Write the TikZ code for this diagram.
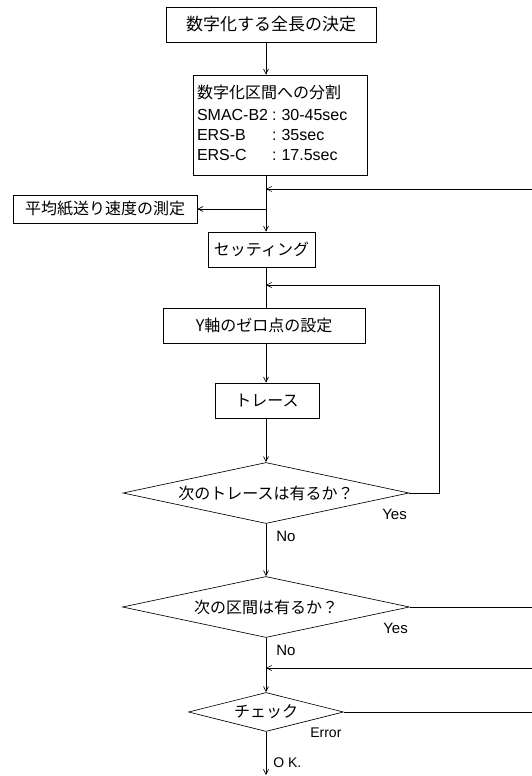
\documentclass[tikz,border=0pt]{standalone}
\usepackage{fontspec}
\setmainfont{Liberation Sans}
\newfontfamily\jp{Noto Sans CJK JP}
\usetikzlibrary{arrows.meta,shapes.geometric}
\begin{document}
\begin{tikzpicture}[x=1pt,y=-1pt,
  line width=0.65pt,
  rbox/.style={draw,rectangle,inner sep=0pt,font=\jp\fontsize{16}{18}\selectfont},
  dia/.style={draw,diamond,inner sep=0pt,aspect=4.7,font=\jp\fontsize{16}{18}\selectfont},
  arr/.style={-{Straight Barb[length=5pt,width=5pt]}},
  lbl/.style={inner sep=0pt,font=\fontsize{15}{17}\selectfont},
  slbl/.style={inner sep=0pt,font=\fontsize{14}{16}\selectfont}]
\useasboundingbox (0,0) rectangle (532,776);
\fill[white] (0,0) rectangle (532,776);
\coordinate (m) at (266,0);

\node[rbox,minimum width=210pt,minimum height=35pt,font=\jp\fontsize{17}{19}\selectfont] (b1) at (271,24.5) {数字化する全長の決定};
\node[draw,rectangle,inner sep=4pt,text width=166pt,minimum height=100pt] (b2) at (280,125)
  {\fontsize{16}{20}\selectfont\begin{tabular}{@{}l@{}l@{}}
   \multicolumn{2}{@{}l@{}}{\jp 数字化区間への分割}\\[2pt]
   SMAC-B2\hspace{4pt} & : 30-45sec\\
   ERS-B & : 35sec\\
   ERS-C & : 17.5sec
   \end{tabular}};
\node[rbox,minimum width=184pt,minimum height=28pt] (lb) at (105,209) {平均紙送り速度の測定};
\node[rbox,minimum width=107pt,minimum height=35pt] (set) at (261.5,249.5) {セッティング};
\node[rbox,minimum width=202pt,minimum height=35pt] (yb) at (264,325.5) {Y軸のゼロ点の設定};
\node[rbox,minimum width=104pt,minimum height=35pt] (tr) at (267,400.5) {トレース};
\node[dia,minimum width=286pt,minimum height=61pt] (d1) at (266,493) {次のトレースは有るか？};
\node[dia,minimum width=287pt,minimum height=61pt] (d2) at (266,607) {次の区間は有るか？};
\node[dia,minimum width=155pt,minimum height=39pt] (d3) at (266,712) {チェック};

\coordinate (e1) at (532,189);
\coordinate (e2) at (532,607);
\coordinate (e3) at (532,668);
\coordinate (e4) at (532,712);
\coordinate (r1) at (439,493);
\coordinate (r2) at (439,285);
\coordinate (j1) at (266,189);
\coordinate (j2) at (266,209);
\coordinate (j3) at (266,285);
\coordinate (j4) at (266,668);
\coordinate (end) at (266,775);

\draw[arr] (b1.south -| m) -- (b2.north -| m);
\draw[arr] (b2.south -| m) -- (set.north -| m);
\draw[arr] (e1) -- (j1);
\draw[arr] (j2) -- (lb.east);
\draw (set.south -| m) -- (yb.north -| m);
\draw[arr] (yb.south -| m) -- (tr.north -| m);
\draw[arr] (tr.south -| m) -- (d1.north);
\draw[arr] (d1.east) -- (r1) -- (r2) -- (j3);
\draw[arr] (d1.south) -- (d2.north);
\draw (d2.east) -- (e2);
\draw[arr] (d2.south) -- (d3.north);
\draw[arr] (e3) -- (j4);
\draw (d3.east) -- (e4);
\draw[arr] (d3.south) -- (end);

\node[lbl,anchor=base west] (y1) at (382,519) {Yes};
\node[lbl,anchor=base west] (n1) at (276,541) {No};
\node[lbl,anchor=base west] (y2) at (383,633) {Yes};
\node[lbl,anchor=base west] (n2) at (276,655) {No};
\node[slbl,anchor=base west] (er) at (310,737) {Error};
\node[slbl,anchor=base west] (ok) at (273,767) {O K.};
\end{tikzpicture}
\end{document}
